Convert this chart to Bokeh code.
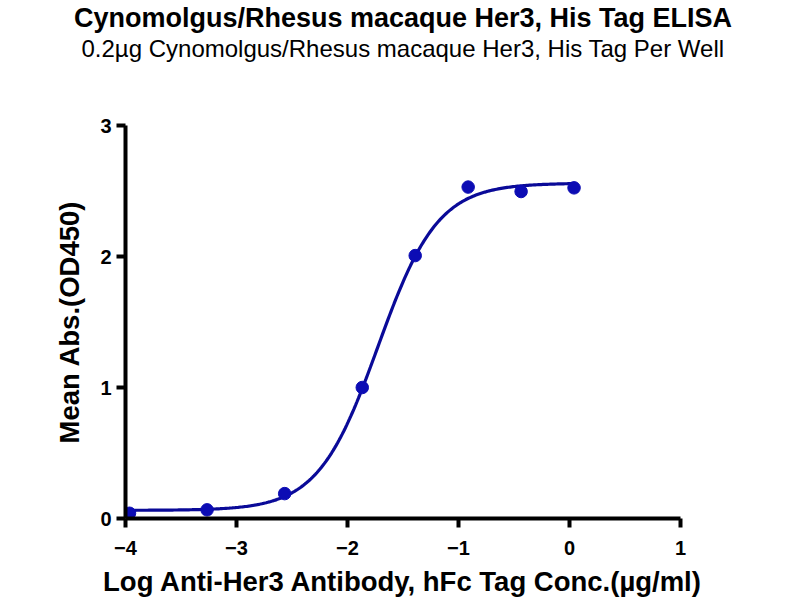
import numpy as np
from bokeh.plotting import figure
from bokeh.models import Range1d, FixedTicker, Title
from bokeh.embed import file_html
from bokeh.resources import INLINE

# Log concentration (ug/ml) and mean OD450 readings
log_conc = [0.041, -0.436, -0.913, -1.390, -1.867, -2.566, -3.265, -3.964]
mean_abs = [2.524, 2.496, 2.530, 2.007, 1.000, 0.190, 0.066, 0.040]

# Four-parameter logistic fit of the readings
fit_bottom = 0.062
fit_top = 2.560
fit_log_ec50 = -1.726
fit_hill = 1.61

x_ticks = [-4, -3, -2, -1, 0, 1]
y_ticks = [0, 1, 2, 3]

title_text = "Cynomolgus/Rhesus macaque Her3, His Tag ELISA"
subtitle_text = "0.2\u00b5g Cynomolgus/Rhesus macaque Her3, His Tag Per Well"
x_label = "Log Anti-Her3 Antibody, hFc Tag Conc.(\u00b5g/ml)"
y_label = "Mean Abs.(OD450)"

FONT = "Liberation Sans"
DOT = "#0c0cb4"
LINE = "#0a0a98"

p = figure(width=800, height=600, output_backend="svg", toolbar_location=None,
           x_range=Range1d(-4, 1), y_range=Range1d(0, 3),
           min_border_left=125, min_border_right=120,
           min_border_top=0, min_border_bottom=82)

p.title.visible = False
p.xgrid.visible = False
p.ygrid.visible = False
p.outline_line_color = None
p.background_fill_color = "white"
p.border_fill_color = "white"

# fitted curve across the measured range
xs = np.linspace(min(log_conc), max(log_conc), 300)
ys = fit_bottom + (fit_top - fit_bottom) / (1 + 10 ** ((fit_log_ec50 - xs) * fit_hill))
p.line(xs, ys, line_color=LINE, line_width=3.2)
p.scatter(log_conc, mean_abs, size=12.5, fill_color=DOT, line_color=DOT)

for ax, ticks in ((p.xaxis[0], x_ticks), (p.yaxis[0], y_ticks)):
    ax.ticker = FixedTicker(ticks=ticks)
    ax.minor_tick_line_color = None
    ax.axis_line_width = 4
    ax.axis_line_color = "black"
    ax.major_tick_line_width = 4
    ax.major_tick_line_color = "black"
    ax.major_tick_in = 0
    ax.major_tick_out = 9
    ax.major_label_text_font = FONT
    ax.major_label_text_font_style = "bold"
    ax.major_label_text_font_size = "20px"
    ax.major_label_text_color = "black"
    ax.axis_label_text_font = FONT
    ax.axis_label_text_font_style = "bold"
    ax.axis_label_text_font_size = "27.5px"
    ax.axis_label_text_color = "black"

p.xaxis[0].axis_label = x_label
p.xaxis[0].major_label_standoff = 13
p.xaxis[0].axis_label_standoff = 8
p.yaxis[0].axis_label = y_label
p.yaxis[0].major_label_standoff = 5
p.yaxis[0].axis_label_standoff = 12

# headings stacked above the frame: gap, subtitle, then the main title
gap = Title(text=" ", text_font=FONT, text_font_size="55px")
subtitle = Title(text=subtitle_text, align="center", offset=3,
                 text_font=FONT, text_font_style="normal",
                 text_font_size="24px", text_color="black")
title = Title(text=title_text, align="center", offset=3,
              text_font=FONT, text_font_style="bold",
              text_font_size="27px", text_color="black")
for t in (gap, subtitle, title):
    t.standoff = 0
    p.add_layout(t, "above")

open("out.html", "w").write(file_html(p, INLINE))
